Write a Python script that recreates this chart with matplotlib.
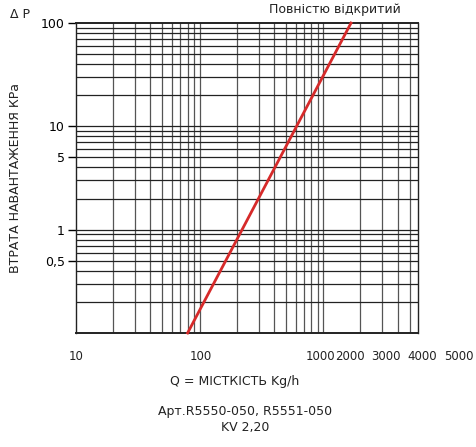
import matplotlib.pyplot as plt
import numpy as np

flow = [80, 1680]          # Kg/h
dp = [0.1, 100]            # kPa
ytick_vals = [100, 10, 5, 1, 0.5]
ytick_labels = ['100', '10', '5', '1', '0,5']
xtick_labels = ['10', '100', '1000', '2000', '3000', '4000', '5000']
xtick_px = [76, 201, 320, 350, 386, 422, 459]

W, H = 476, 447
fig = plt.figure(figsize=(W / 100, H / 100), dpi=100)
ax = fig.add_axes([76 / W, 1 - 333 / H, (418 - 76) / W, (333 - 23) / H])
ax.set_xscale('log')
ax.set_yscale('log')
ax.set_xlim(10, 5850)
ax.set_ylim(0.1, 100)

# grid
for dec in [10, 100, 1000]:
    for m in range(1, 10):
        v = dec * m
        if 10 < v < 5850:
            ax.axvline(v, color='#555555', lw=0.9, zorder=1)
for dec in [0.1, 1, 10]:
    for m in range(1, 10):
        v = dec * m
        if 0.1 < v < 100:
            ax.axhline(v, color='#222222', lw=0.9, zorder=1)

ax.plot(flow, dp, color='#d62a2a', lw=2, zorder=3, clip_on=False)

for s in ax.spines.values():
    s.set_linewidth(1.4)
    s.set_color('#222222')
ax.spines['left'].set_linewidth(1.0)
ax.spines['right'].set_linewidth(1.0)

ax.set_yticks(ytick_vals)
ax.set_yticklabels(ytick_labels)
ax.yaxis.set_minor_locator(plt.NullLocator())
ax.xaxis.set_minor_locator(plt.NullLocator())
ax.set_xticks([])
ax.tick_params(axis='y', length=6, width=1, labelsize=9, pad=2)

for lab, px in zip(xtick_labels, xtick_px):
    fig.text(px / W, 1 - 356 / H, lab, ha='center', va='center', fontsize=8.5, color='#222222')

fig.text(20 / W, 1 - 15 / H, 'Δ P', ha='center', va='center', fontsize=9, color='#222222')
fig.text(16 / W, 1 - 178 / H, 'ВТРАТА НАВАНТАЖЕННЯ КРа', rotation=90, ha='center', va='center',
         fontsize=9, color='#222222')
fig.text(335 / W, 1 - 10 / H, 'Повністю відкритий', ha='center', va='center', fontsize=9, color='#222222')
fig.text(235 / W, 1 - 382 / H, 'Q = МІСТКІСТЬ Kg/h', ha='center', va='center', fontsize=9, color='#222222')
fig.text(245 / W, 1 - 411 / H, 'Арт.R5550-050, R5551-050', ha='center', va='center', fontsize=9, color='#222222')
fig.text(245 / W, 1 - 428 / H, 'KV 2,20', ha='center', va='center', fontsize=9, color='#222222')

fig.savefig('out.png', dpi=100)
